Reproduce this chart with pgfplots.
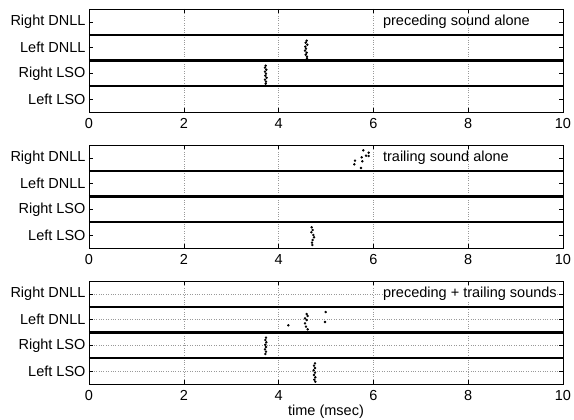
\documentclass[border=0pt]{standalone}
\usepackage{pgfplots}
\pgfplotsset{compat=1.18}
\usepackage{fontspec}
\setmainfont{Liberation Sans}
\newcommand{\fs}{\fontsize{14.5}{17}\selectfont}
\pgfplotsset{
  panel/.style={
    scale only axis, width=474pt, height=103pt,
    xmin=0, xmax=10, ymin=0, ymax=4,
    xtick={0,2,4,6,8,10},
    ytick={0.5,1.5,2.5,3.5},
    yticklabels={Left LSO, Right LSO, Left DNLL, Right DNLL},
    tick align=inside,
    major tick length=4pt,
    tick style={black, line width=0.6pt},
    axis line style={line width=0.8pt},
    xmajorgrids,
    grid style={dotted, gray!80, line width=0.6pt},
    ticklabel style={font=\fs},
    xticklabel style={yshift=-3pt},
    label style={font=\fs},
    /pgf/number format/assume math mode=true,
    clip=false,
  },
  sep/.style={black, line width=1.8pt, forget plot},
  sepmid/.style={black, line width=2.6pt, forget plot},
  spk/.style={only marks, mark=*, mark size=1pt, black},
}
\begin{document}
\begin{tikzpicture}
\useasboundingbox (0,0) rectangle (574pt,-420pt);
% ---------- panel 1
\begin{axis}[panel, at={(89pt,-9pt)}, anchor=north west]
\addplot[sep] coordinates {(0,1) (10,1)};
\addplot[sepmid] coordinates {(0,2) (10,2)};
\addplot[sep] coordinates {(0,3) (10,3)};
\addplot[spk] coordinates {
(4.593,2.769) (4.572,2.691) (4.606,2.614) (4.563,2.536) (4.578,2.458)
(4.557,2.381) (4.593,2.303) (4.572,2.225) (4.599,2.148) (4.599,2.085)};
\addplot[spk] coordinates {
(3.728,1.798) (3.713,1.720) (3.741,1.643) (3.713,1.565) (3.734,1.487)
(3.720,1.410) (3.747,1.332) (3.713,1.254) (3.734,1.177) (3.728,1.099)};
\node[anchor=west, font=\fs, inner sep=0pt] at (axis cs:6.2,3.5) {preceding sound alone};
\end{axis}
% ---------- panel 2
\begin{axis}[panel, at={(89pt,-145pt)}, anchor=north west]
\addplot[sep] coordinates {(0,1) (10,1)};
\addplot[sepmid] coordinates {(0,2) (10,2)};
\addplot[sep] coordinates {(0,3) (10,3)};
\addplot[spk] coordinates {
(5.787,3.794) (5.901,3.701) (5.844,3.584) (5.753,3.522) (5.901,3.573)
(5.612,3.390) (5.766,3.367) (5.597,3.250) (5.738,3.107)};
\addplot[spk] coordinates {
(4.698,0.804) (4.719,0.699) (4.691,0.610) (4.733,0.505) (4.747,0.416)
(4.719,0.311) (4.705,0.206) (4.711,0.117)};
\node[anchor=west, font=\fs, inner sep=0pt] at (axis cs:6.2,3.5) {trailing sound alone};
\end{axis}
% ---------- panel 3
\begin{axis}[panel, at={(89pt,-281pt)}, anchor=north west, ymajorgrids,
  xlabel={time (msec)}, xlabel style={yshift=3pt}]
\addplot[sep] coordinates {(0,1) (10,1)};
\addplot[sepmid] coordinates {(0,2) (10,2)};
\addplot[sep] coordinates {(0,3) (10,3)};
\addplot[spk] coordinates {
(4.593,2.718) (4.614,2.641) (4.557,2.552) (4.593,2.485) (4.557,2.357)
(4.578,2.225) (4.614,2.124) (4.205,2.280) (4.994,2.796) (4.979,2.408)};
\addplot[spk] coordinates {
(3.734,1.798) (3.720,1.709) (3.741,1.619) (3.720,1.526) (3.734,1.437)
(3.713,1.348) (3.734,1.254) (3.720,1.165)};
\addplot[spk] coordinates {
(4.768,0.804) (4.747,0.711) (4.768,0.621) (4.740,0.532) (4.768,0.439)
(4.747,0.350) (4.775,0.260) (4.753,0.167) (4.775,0.089)};
\node[anchor=west, font=\fs, inner sep=0pt, fill=white] at (axis cs:6.2,3.5) {preceding + trailing sounds};
\end{axis}
\end{tikzpicture}
\end{document}
